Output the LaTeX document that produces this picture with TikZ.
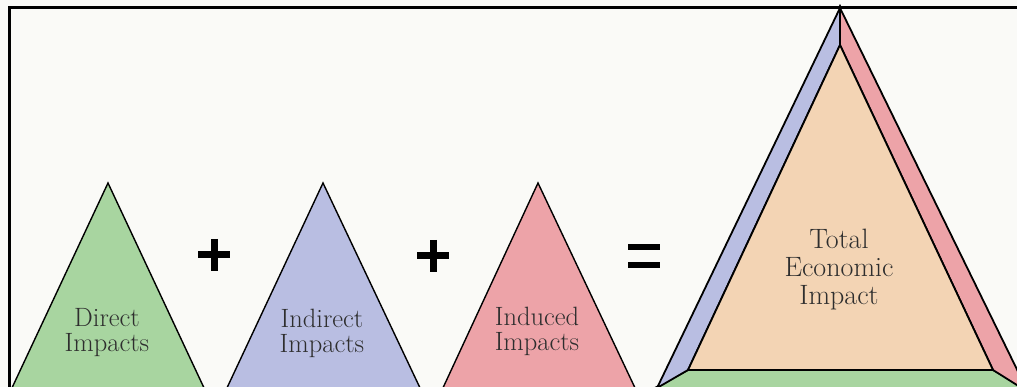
\documentclass[tikz,border=0pt]{standalone}
\usepackage{tikz}
\usetikzlibrary{positioning}
\definecolor{bgcol}{HTML}{FAFAF7}
\definecolor{greenface}{HTML}{A8D5A0}
\definecolor{blueface}{HTML}{B9BEE2}
\definecolor{pinkface}{HTML}{EDA3A8}
\definecolor{peachface}{HTML}{F3D4B4}
\definecolor{labelcol}{HTML}{2E2E2E}

\begin{document}
\begin{tikzpicture}[x=1pt, y=-1pt, line join=miter,
    face/.style={draw=black, line width=1.4pt},
    bigface/.style={draw=black, line width=1.8pt},
    lbl/.style={text=labelcol, align=center, inner sep=0pt,
        font=\fontsize{26.5}{25}\selectfont},
    sign/.style={line width=7pt}]
    \useasboundingbox (0,0) rectangle (1017,387);
    \fill[bgcol] (0,0) rectangle (1017,387);
    \clip (0,0) rectangle (1017,387);

    % Frame
    \draw[line width=3pt] (9,390) -- (9,8) -- (1020,8);

    % Small triangles
    \draw[face, fill=greenface] (108,183) -- (11,390) -- (205,390) -- cycle;
    \draw[face, fill=blueface] (323,183) -- (226,390) -- (421,390) -- cycle;
    \draw[face, fill=pinkface] (538,183) -- (442,390) -- (636,390) -- cycle;

    % Labels
    \node[lbl] (direct) at (107,333) {Direct\\Impacts};
    \node[lbl] (indirect) at (322,333) {Indirect\\Impacts};
    \node[lbl] (induced) at (537,331) {Induced\\Impacts};

    % Plus and equals signs
    \draw[sign] (198,255) -- (230,255) (214,239) -- (214,271);
    \draw[sign] (417,256) -- (449,256) (433,240) -- (433,272);
    \draw[line width=6pt] (628,247) -- (660,247) (628,265) -- (660,265);

    % Big pyramid
    \draw[bigface, fill=greenface] (640,396) -- (688,370) -- (993,370) -- (1040,396) -- cycle;
    \draw[bigface, fill=blueface] (840,8) -- (657,388) -- (688,370) -- (840,45) -- cycle;
    \draw[bigface, fill=pinkface] (840,8) -- (840,45) -- (993,370) -- (1028,392) -- cycle;
    \draw[bigface, fill=peachface] (840,45) -- (688,370) -- (993,370) -- cycle;

    \node[lbl, font=\fontsize{28}{28}\selectfont] (total) at (839,270)
        {Total\\Economic\\Impact};
\end{tikzpicture}
\end{document}
